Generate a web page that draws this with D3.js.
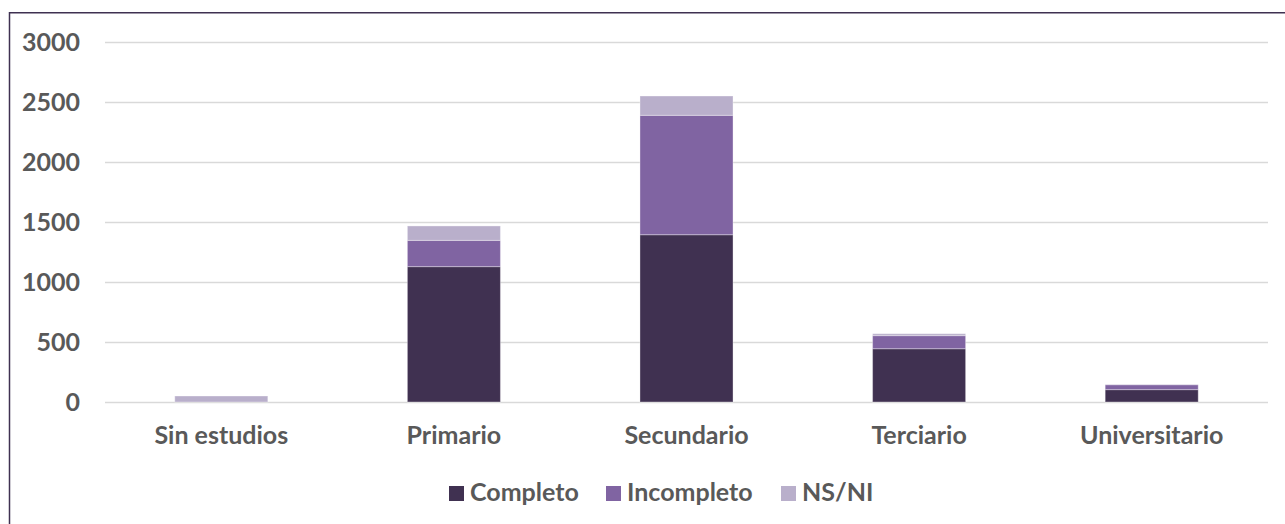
<!DOCTYPE html>
<html>
<head>
<meta charset="utf-8">
<script src="https://cdn.jsdelivr.net/npm/d3@7"></script>
<style>
  body { margin: 0; background: #fff; }
  svg { display: block; }
</style>
</head>
<body>
<svg id="chart" width="1285" height="524"></svg>
<script>
// nivel educativo, apilado por estado
const categories = ["Sin estudios", "Primario", "Secundario", "Terciario", "Universitario"];
const seriesNames = ["Completo", "Incompleto", "NS/NI"];
const completo = [0, 1128, 1394, 444, 103];
const incompleto = [0, 219, 995, 109, 41];
const nsni = [50, 120, 161, 16, 2];
const yTicks = [0, 500, 1000, 1500, 2000, 2500, 3000];

const colors = ["#403151", "#8064a2", "#b9afcb"];
const FONT = "Lato, 'Open Sans', sans-serif";
const TEXT = "#595959";
const FS = "25px";

const svg = d3.select("#chart");

// chart frame
svg.append("rect")
  .attr("x", 9.5).attr("y", 12.75)
  .attr("width", 1290).attr("height", 530)
  .attr("fill", "none")
  .attr("stroke", "#3f3151")
  .attr("stroke-width", 1.5);

const x = d3.scaleBand()
  .domain(categories)
  .range([105, 1268])
  .paddingInner(0.6)
  .paddingOuter(0.3);

const y = d3.scaleLinear()
  .domain([0, 3000])
  .range([402, 42]);

// gridlines + y labels
const yAxis = d3.axisLeft(y)
  .tickValues(yTicks)
  .tickFormat(d3.format("d"))
  .tickSize(-(1268 - 105))
  .tickPadding(25);

const gy = svg.append("g")
  .attr("transform", "translate(105,0)")
  .call(yAxis);
gy.select(".domain").remove();
gy.selectAll(".tick line")
  .attr("stroke", "#d9d9d9")
  .attr("stroke-width", 1.3);
gy.selectAll(".tick text")
  .attr("fill", TEXT)
  .style("font-family", FONT)
  .style("font-size", FS)
  .style("font-weight", "bold");

// stack the series
const rows = categories.map((c, i) => ({
  cat: c,
  "Completo": completo[i],
  "Incompleto": incompleto[i],
  "NS/NI": nsni[i]
}));
const stacked = d3.stack().keys(seriesNames)(rows);

svg.append("g")
  .selectAll("g")
  .data(stacked)
  .join("g")
  .attr("fill", (d, i) => colors[i])
  .selectAll("rect")
  .data(d => d)
  .join("rect")
  .attr("x", d => x(d.data.cat))
  .attr("y", d => y(d[1]))
  .attr("width", x.bandwidth())
  .attr("height", d => Math.max(0, y(d[0]) - y(d[1])))
  .attr("stroke", "rgba(255,255,255,0.35)")
  .attr("stroke-width", 1)
  .filter(d => d[1] - d[0] <= 0).remove();

// category labels
const xAxis = d3.axisBottom(x).tickSize(0).tickPadding(0);
const gx = svg.append("g")
  .attr("transform", "translate(0,426)")
  .call(xAxis);
gx.select(".domain").remove();
gx.selectAll(".tick text")
  .attr("fill", TEXT)
  .attr("dy", "0.71em")
  .style("font-family", FONT)
  .style("font-size", FS)
  .style("font-weight", "bold");

// legend
const legendX = [449, 606, 781];
const legend = svg.append("g");
seriesNames.forEach((name, i) => {
  legend.append("rect")
    .attr("x", legendX[i]).attr("y", 486)
    .attr("width", 15).attr("height", 15)
    .attr("fill", colors[i]);
  legend.append("text")
    .attr("x", legendX[i] + 21).attr("y", 501)
    .attr("fill", TEXT)
    .style("font-family", FONT)
    .style("font-size", FS)
    .style("font-weight", "bold")
    .text(name);
});
</script>
</body>
</html>
